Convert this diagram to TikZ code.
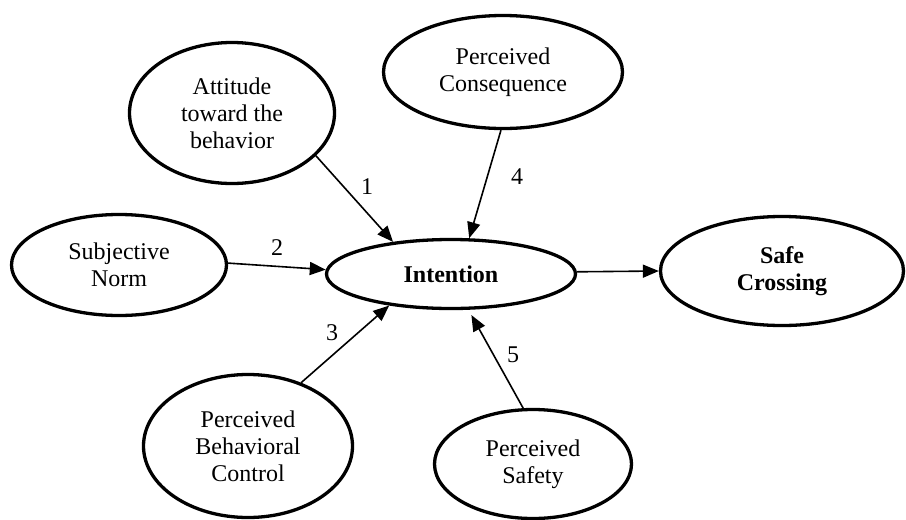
\documentclass[tikz,border=0pt]{standalone}
\usepackage{fontspec}
\setmainfont{Liberation Serif}
\usetikzlibrary{shapes.geometric,arrows.meta}
\begin{document}
\begin{tikzpicture}[x=1pt,y=-1pt,
  oval/.style={ellipse, draw, line width=3.3pt, inner sep=0pt, align=center, font=\fontsize{24}{27}\selectfont},
  link/.style={line width=1.6pt, -{Triangle[length=16pt,width=13pt]}},
  num/.style={font=\fontsize{24}{27}\selectfont, inner sep=0pt}]
\useasboundingbox (0,0) rectangle (906,520);
\node[oval, minimum width=205pt, minimum height=141pt] (att) at (232,113) {Attitude\\toward the\\behavior};
\node[oval, minimum width=239pt, minimum height=113pt] (pc) at (503,72) {Perceived\\Consequence};
\node[oval, minimum width=215pt, minimum height=101pt] (sn) at (119,265) {Subjective\\Norm};
\node[oval, minimum width=249pt, minimum height=69pt] (int) at (451,274) {\textbf{Intention}};
\node[oval, minimum width=243pt, minimum height=109pt] (safe) at (782,271) {\textbf{Safe}\\\textbf{Crossing}};
\node[oval, minimum width=209pt, minimum height=143pt] (pbc) at (248,446) {Perceived\\Behavioral\\Control};
\node[oval, minimum width=197pt, minimum height=109pt] (ps) at (533,464) {Perceived\\Safety};

\draw[link] (att.-27) -- (int.151);
\draw[link] (pc.-92) -- (int.63);
\draw[link] (sn.1.6) -- (int.178);
\draw[link] (pbc.50) -- (int.-153);
\draw[link, shorten >=6pt] (ps.100) -- (int.-64.5);
\draw[link] (int.1.4) -- (safe.180);

\node[num] (n1) at (367,187) {1};
\node[num] (n2) at (277,248) {2};
\node[num] (n3) at (332,333) {3};
\node[num] (n4) at (517,177) {4};
\node[num] (n5) at (513,355) {5};
\end{tikzpicture}
\end{document}
